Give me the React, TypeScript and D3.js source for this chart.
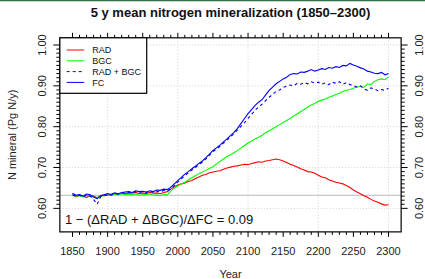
import React from 'react';
import * as d3 from 'd3';

// 5-year samples, 1850..2300
const years = d3.range(1850, 2301, 5);

const rad = [
  0.633, 0.628, 0.632, 0.629, 0.627, 0.631, 0.630, 0.626, 0.631, 0.633,
  0.632, 0.634, 0.636, 0.634, 0.637, 0.636, 0.638, 0.637, 0.639, 0.636,
  0.638, 0.636, 0.639, 0.637, 0.638, 0.636, 0.639, 0.641, 0.647, 0.653,
  0.657, 0.660, 0.662, 0.666, 0.668, 0.673, 0.677, 0.681, 0.683, 0.687,
  0.689, 0.691, 0.692, 0.696, 0.699, 0.701, 0.703, 0.704, 0.706, 0.708,
  0.707, 0.710, 0.712, 0.714, 0.713, 0.716, 0.717, 0.719, 0.721, 0.719,
  0.716, 0.712, 0.708, 0.705, 0.701, 0.697, 0.694, 0.690, 0.689, 0.686,
  0.681, 0.677, 0.675, 0.670, 0.667, 0.664, 0.662, 0.660, 0.656, 0.651,
  0.645, 0.640, 0.636, 0.631, 0.627, 0.622, 0.618, 0.615, 0.611, 0.608,
  0.609
];

const bgc = [
  0.634, 0.630, 0.631, 0.628, 0.632, 0.630, 0.628, 0.626, 0.630, 0.631,
  0.633, 0.632, 0.635, 0.633, 0.636, 0.634, 0.634, 0.633, 0.635, 0.632,
  0.633, 0.634, 0.635, 0.632, 0.633, 0.631, 0.634, 0.633, 0.642, 0.650,
  0.655, 0.660, 0.664, 0.670, 0.675, 0.680, 0.685, 0.689, 0.693, 0.698,
  0.702, 0.709, 0.715, 0.721, 0.727, 0.731, 0.736, 0.742, 0.748, 0.754,
  0.760, 0.765, 0.770, 0.774, 0.779, 0.785, 0.790, 0.795, 0.800, 0.805,
  0.810, 0.815, 0.820, 0.826, 0.831, 0.837, 0.842, 0.848, 0.853, 0.857,
  0.862, 0.865, 0.868, 0.872, 0.875, 0.879, 0.882, 0.886, 0.889, 0.891,
  0.894, 0.897, 0.899, 0.896, 0.905, 0.903, 0.911, 0.915, 0.917, 0.915,
  0.922
];

const radBgc = [
  0.633, 0.630, 0.632, 0.628, 0.633, 0.630, 0.622, 0.610, 0.628, 0.631,
  0.633, 0.632, 0.636, 0.635, 0.637, 0.638, 0.640, 0.638, 0.641, 0.639,
  0.641, 0.638, 0.642, 0.639, 0.642, 0.640, 0.644, 0.643, 0.648, 0.656,
  0.665, 0.672, 0.680, 0.687, 0.694, 0.700, 0.707, 0.713, 0.721, 0.730,
  0.739, 0.745, 0.752, 0.760, 0.767, 0.775, 0.783, 0.792, 0.801, 0.810,
  0.820, 0.830, 0.840, 0.848, 0.855, 0.864, 0.872, 0.879, 0.887, 0.890,
  0.896, 0.899, 0.902, 0.900, 0.906, 0.904, 0.908, 0.905, 0.910, 0.907,
  0.909, 0.904, 0.907, 0.903, 0.909, 0.906, 0.910, 0.904, 0.908, 0.903,
  0.901, 0.897, 0.900, 0.893, 0.889, 0.895, 0.892, 0.888, 0.891, 0.889,
  0.894
];

const fc = [
  0.637, 0.632, 0.634, 0.630, 0.635, 0.633, 0.628, 0.624, 0.631, 0.633,
  0.636, 0.634, 0.638, 0.636, 0.639, 0.640, 0.641, 0.639, 0.643, 0.641,
  0.642, 0.640, 0.643, 0.641, 0.645, 0.644, 0.647, 0.646, 0.652, 0.660,
  0.668, 0.676, 0.684, 0.690, 0.697, 0.703, 0.710, 0.716, 0.724, 0.733,
  0.742, 0.748, 0.755, 0.763, 0.770, 0.778, 0.786, 0.796, 0.808, 0.820,
  0.832, 0.842, 0.852, 0.860, 0.866, 0.878, 0.889, 0.897, 0.905, 0.911,
  0.917, 0.921, 0.928, 0.930, 0.929, 0.934, 0.933, 0.936, 0.940, 0.936,
  0.939, 0.942, 0.940, 0.945, 0.943, 0.947, 0.945, 0.950, 0.949, 0.955,
  0.951, 0.948, 0.944, 0.941, 0.936, 0.934, 0.931, 0.930, 0.933, 0.927,
  0.930
];

const series = [
  { name: 'RAD', values: rad, color: '#ff0000', dash: null },
  { name: 'BGC', values: bgc, color: '#00ff00', dash: null },
  { name: 'RAD + BGC', values: radBgc, color: '#0000ff', dash: '3,3' },
  { name: 'FC', values: fc, color: '#0000ff', dash: null }
];

const yTickLabels = ['0.60', '0.70', '0.80', '0.90', '1.00'];
const xTickLabels = d3.range(1850, 2301, 50);
const xGrid = [1900, 2000, 2100, 2200, 2300];
const refLevel = 0.632;
const fraction = '0.09';

const W = 425;
const H = 279;
const font = '"Liberation Sans", Arial, sans-serif';

export default function App() {
  const x = d3.scaleLinear().domain([1850, 2300]).range([72.5, 388.5]);
  const y = d3.scaleLinear().domain([0.56, 1.0]).range([224.7, 45]);

  // plot region (R style 4% padding)
  const left = x(1832);
  const right = x(2318);
  const top = y(1.0176);
  const bottom = y(0.5424);

  const line = d3
    .line<number>()
    .x((_, i) => x(years[i]))
    .y((d) => y(d));

  const xMinor = d3.range(1850, 2301, 10);
  const yMinor = d3.range(60, 101, 1).map((v) => v / 100);

  return (
    <svg
      width={W}
      height={H}
      style={{ position: 'absolute', left: 0, top: 0, background: '#fff' }}
      fontFamily={font}
    >
      <rect width={W} height={H} fill="#fff" />
      <line x1={0} x2={W} y1={0.5} y2={0.5} stroke="#2f6f45" strokeWidth={1.5} />

      <text x={(left + right) / 2} y={16.5} textAnchor="middle" fontSize={13} fontWeight="bold" fill="#111">
        5 y mean nitrogen mineralization (1850–2300)
      </text>

      {/* grid */}
      {xGrid.map((d) => (
        <line key={'gx' + d} x1={x(d)} x2={x(d)} y1={top} y2={bottom} stroke="#d3d3d3" strokeDasharray="1,2" />
      ))}
      {yTickLabels.map((d) => (
        <line key={'gy' + d} x1={left} x2={right} y1={y(+d)} y2={y(+d)} stroke="#d3d3d3" strokeDasharray="1,2" />
      ))}
      <line x1={left} x2={right} y1={y(refLevel)} y2={y(refLevel)} stroke="#bbbbbb" strokeWidth={1} />

      {/* series */}
      {series.map((s) => (
        <path
          key={s.name}
          d={line(s.values) || ''}
          fill="none"
          stroke={s.color}
          strokeWidth={1.1}
          strokeDasharray={s.dash || undefined}
        />
      ))}

      {/* box */}
      <rect x={left} y={top} width={right - left} height={bottom - top} fill="none" stroke="#000" strokeWidth={1.2} />

      {/* x axes top and bottom */}
      {xMinor.map((d) => {
        const major = (d - 1850) % 50 === 0;
        return (
          <g key={'xt' + d}>
            <line x1={x(d)} x2={x(d)} y1={bottom} y2={bottom + (major ? 5 : 3)} stroke="#000" />
            <line x1={x(d)} x2={x(d)} y1={top} y2={top - (major ? 5 : 3)} stroke="#000" />
          </g>
        );
      })}
      {xTickLabels.map((d) => (
        <text key={'xl' + d} x={x(d)} y={255} textAnchor="middle" fontSize={11} fill="#222">
          {d}
        </text>
      ))}
      <text x={(left + right) / 2} y={278} textAnchor="middle" fontSize={11} fill="#222">
        Year
      </text>

      {/* y axes left and right */}
      {yMinor.map((d, i) => {
        const major = i % 10 === 0;
        return (
          <g key={'yt' + i}>
            <line x1={left} x2={left - (major ? 6.5 : 3.5)} y1={y(d)} y2={y(d)} stroke="#000" />
            <line x1={right} x2={right + (major ? 6.5 : 3.5)} y1={y(d)} y2={y(d)} stroke="#000" />
          </g>
        );
      })}
      {yTickLabels.map((d) => (
        <g key={'yl' + d}>
          <text transform={`translate(45.7,${y(+d)}) rotate(-90)`} textAnchor="middle" fontSize={11} fill="#222">
            {d}
          </text>
          <text transform={`translate(423.3,${y(+d)}) rotate(-90)`} textAnchor="middle" fontSize={11} fill="#222">
            {d}
          </text>
        </g>
      ))}
      <text transform={`translate(16,${(top + bottom) / 2}) rotate(-90)`} textAnchor="middle" fontSize={11} fill="#222">
        N mineral (Pg N/y)
      </text>

      {/* legend */}
      <rect x={left} y={top} width={146.7 - left} height={93.3 - top} fill="#fff" stroke="#000" strokeWidth={1.2} />
      {series.map((s, i) => {
        const ly = 50 + i * 10.8;
        return (
          <g key={'lg' + s.name}>
            <line x1={66.7} x2={84.3} y1={ly} y2={ly} stroke={s.color} strokeWidth={1} strokeDasharray={s.dash || undefined} />
            <text x={92.3} y={ly + 3.3} fontSize={9} fill="#111">
              {s.name}
            </text>
          </g>
        );
      })}

      {/* annotation */}
      <text x={65} y={224} fontSize={13} fill="#111">
        {`1 − (ΔRAD + ΔBGC)/ΔFC = ${fraction}`}
      </text>
    </svg>
  );
}
